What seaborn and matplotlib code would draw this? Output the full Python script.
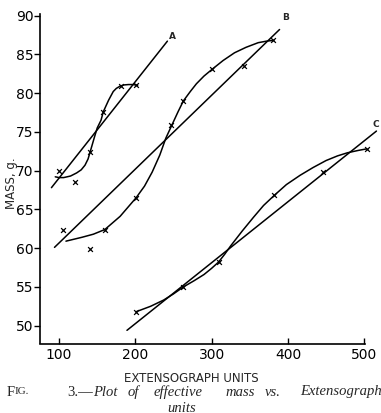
import matplotlib
matplotlib.use("Agg")
import matplotlib.pyplot as plt
import seaborn as sns
import pandas as pd

# ---- data ----
A_x = [100, 121, 141, 158, 181, 201]
A_y = [70.0, 68.5, 72.4, 77.6, 80.9, 81.0]
A_line_x = [90, 242]
A_line_y = [67.8, 86.7]
A_curve_x = [95, 100, 106, 115, 123, 129, 134, 138, 141, 146, 150, 155, 158, 165, 171, 175, 180, 185, 191, 197, 203]
A_curve_y = [69.2, 69.1, 69.1, 69.3, 69.7, 70.1, 70.7, 71.5, 72.5, 74.2, 75.5, 76.5, 77.6, 79.1, 80.2, 80.6, 80.9, 81.05, 81.1, 81.1, 81.0]

B_x = [105, 140, 160, 201, 247, 263, 301, 342, 381]
B_y = [62.4, 59.9, 62.4, 66.5, 75.9, 79.0, 83.1, 83.5, 86.8]
B_line_x = [94, 389]
B_line_y = [60.1, 88.2]
B_curve_x = [109, 130, 145, 160, 180, 201, 212, 222, 232, 240, 248, 256, 263, 272, 280, 290, 301, 315, 330, 345, 361, 372, 381]
B_curve_y = [60.9, 61.4, 61.8, 62.4, 64.1, 66.5, 68.0, 69.8, 72.0, 74.2, 75.9, 77.6, 79.0, 80.2, 81.2, 82.2, 83.1, 84.2, 85.2, 85.9, 86.5, 86.7, 86.8]

C_x = [201, 263, 309, 382, 446, 503]
C_y = [51.8, 55.0, 58.2, 66.8, 69.8, 72.8]
C_line_x = [189, 516]
C_line_y = [49.4, 75.1]
C_curve_x = [201, 220, 237, 250, 263, 277, 290, 300, 309, 317, 325, 340, 355, 368, 382, 398, 416, 433, 450, 465, 478, 492, 503]
C_curve_y = [51.8, 52.5, 53.3, 54.1, 55.0, 55.8, 56.6, 57.4, 58.2, 59.2, 60.3, 62.2, 64.0, 65.5, 66.8, 68.2, 69.4, 70.4, 71.3, 71.9, 72.3, 72.6, 72.8]

curve_labels = ["A", "B", "C"]
label_x = [248, 397, 515]
label_y = [87.3, 89.7, 76.0]

x_ticks = [100, 200, 300, 400, 500]
y_ticks = [50, 55, 60, 65, 70, 75, 80, 85, 90]

sns.set_style("ticks")
plt.rcParams['font.family'] = ['DejaVu Sans']

W, H = 381, 413
fig = plt.figure(figsize=(W / 100, H / 100), dpi=100)
ax = fig.add_axes([40 / W, 1 - 343.5 / H, 325 / W, 329.5 / H])

lw = 1.1
for (px, py, lx, ly, cx, cy) in [
    (A_x, A_y, A_line_x, A_line_y, A_curve_x, A_curve_y),
    (B_x, B_y, B_line_x, B_line_y, B_curve_x, B_curve_y),
    (C_x, C_y, C_line_x, C_line_y, C_curve_x, C_curve_y),
]:
    dl = pd.DataFrame({"x": lx, "y": ly})
    dc = pd.DataFrame({"x": cx, "y": cy})
    dp = pd.DataFrame({"x": px, "y": py})
    sns.lineplot(data=dl, x="x", y="y", ax=ax, color="black", lw=lw,
                 sort=False, estimator=None)
    sns.lineplot(data=dc, x="x", y="y", ax=ax, color="black", lw=lw,
                 sort=False, estimator=None)
    sns.scatterplot(data=dp, x="x", y="y", ax=ax, marker="x", color="black",
                    s=12, linewidth=0.9, clip_on=False)

for ln in ax.lines:
    ln.set_clip_on(False)
    ln.set_solid_joinstyle("round")
for coll in ax.collections:
    coll.set_clip_on(False)

for t, x, y in zip(curve_labels, label_x, label_y):
    ax.text(x, y, t, fontsize=6.5, fontweight="bold", ha="center", va="center")

ax.set_xlim(75, 501)
ax.set_ylim(47.7, 90.2)
ax.set_xticks(x_ticks)
ax.set_yticks(y_ticks)
ax.set_xticklabels([str(v) for v in x_ticks], fontsize=10)
ax.set_yticklabels([str(v) for v in y_ticks], fontsize=10)
ax.tick_params(axis="x", direction="in", length=4, width=1, pad=3, colors="black")
ax.tick_params(axis="y", direction="out", length=4, width=1, pad=0.5, colors="black")
for s in ["top", "right"]:
    ax.spines[s].set_visible(False)
for s in ["left", "bottom"]:
    ax.spines[s].set_linewidth(1.2)
    ax.spines[s].set_color("black")

ax.set_xlabel("EXTENSOGRAPH UNITS", fontsize=8.5)
ax.set_ylabel("MASS, g.", fontsize=8.5)
ax.xaxis.set_label_coords(0.465, -0.086)
ax.yaxis.set_label_coords(-0.068, 0.487)

# caption
serif = ["Liberation Serif", "DejaVu Serif"]
yl1 = 1 - 392 / H
yl2 = 1 - 408 / H
fs = 10.5
fig.text(7 / W, yl1, "F", fontsize=fs, family=serif, va="center")
fig.text(15 / W, yl1, "IG.", fontsize=8, family=serif, va="center")
t3 = fig.text(67 / W, yl1, "3.—", fontsize=fs, family=serif, va="center")
renderer = fig.canvas.get_renderer()
bb = t3.get_window_extent(renderer=renderer)
fig.text(bb.x1 / W + 0.5 / W, yl1, "Plot", fontsize=fs, family=serif, style="italic", va="center")
words = [("of", 128), ("effective", 154), ("mass", 225),
         ("vs.", 265), ("Extensograph", 300)]
for w, x in words:
    fig.text(x / W, yl1, w, fontsize=fs, family=serif, style="italic", va="center")
fig.text(167 / W, yl2, "units", fontsize=fs, family=serif, style="italic", va="center")

fig.savefig("out.png", dpi=100)
